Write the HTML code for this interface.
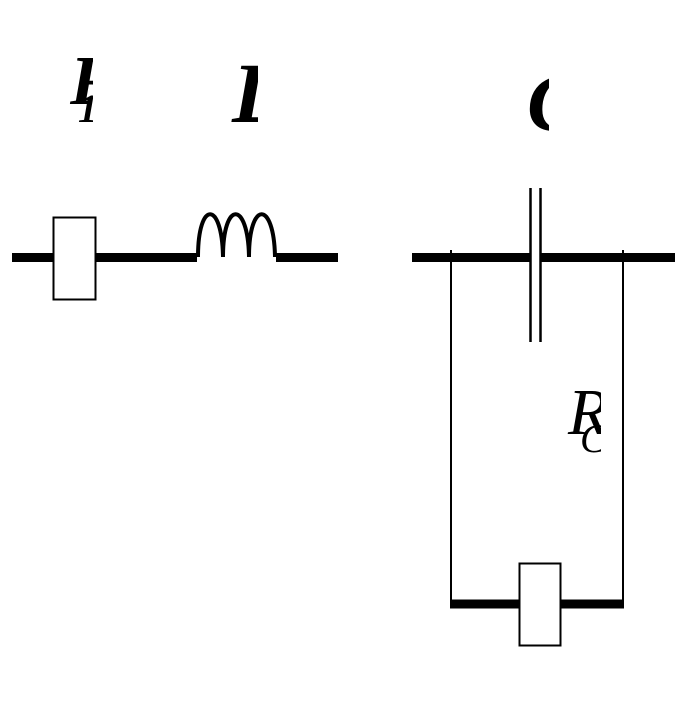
<!DOCTYPE html>
<html><head><style>body{margin:0;background:#fff}svg{display:block}</style></head><body>
<svg width="693" height="722" viewBox="0 0 693 722" xmlns="http://www.w3.org/2000/svg">
<defs>
<clipPath id="c1"><rect x="60" y="40" width="33" height="90"/></clipPath>
<clipPath id="c2"><rect x="230" y="50" width="28" height="80"/></clipPath>
<clipPath id="c3"><rect x="520" y="60" width="29" height="80"/></clipPath>
<clipPath id="c4"><rect x="560" y="370" width="41" height="90"/></clipPath>
</defs>
<g font-family="Liberation Serif, serif" font-style="italic" font-weight="bold">
<text x="70" y="104" font-size="70" clip-path="url(#c1)">R</text>
<text x="78" y="122" font-size="40" clip-path="url(#c1)">1</text>
<text x="232" y="122" font-size="86" clip-path="url(#c2)">L</text>
<text x="527" y="130" font-size="82" clip-path="url(#c3)">C</text>
</g>
<g font-family="Liberation Serif, serif" font-style="italic" clip-path="url(#c4)">
<text x="568" y="434" font-size="66">R</text>
<text x="580" y="452" font-size="40">C</text>
</g>
<g stroke="#000" fill="none">
<line x1="12" y1="257.5" x2="197" y2="257.5" stroke-width="9"/>
<line x1="276" y1="257.5" x2="338" y2="257.5" stroke-width="9"/>
<path d="M198 257 C198 200 222 200 223 257 C223 200 248 200 249 257 C249 200 274 200 275 257" stroke-width="4"/>
<rect x="53.5" y="217.5" width="42" height="82" fill="#fff" stroke-width="2"/>
<line x1="412" y1="257.5" x2="530" y2="257.5" stroke-width="9"/>
<line x1="540" y1="257.5" x2="675" y2="257.5" stroke-width="9"/>
<line x1="530.5" y1="188" x2="530.5" y2="342" stroke-width="2.5"/>
<line x1="540.5" y1="188" x2="540.5" y2="342" stroke-width="2.5"/>
<line x1="451" y1="250" x2="451" y2="604" stroke-width="2"/>
<line x1="623" y1="250" x2="623" y2="604" stroke-width="2"/>
<line x1="450" y1="604" x2="624" y2="604" stroke-width="9"/>
<rect x="519.5" y="563.5" width="41" height="82" fill="#fff" stroke-width="2"/>
</g>
</svg>
</body></html>
